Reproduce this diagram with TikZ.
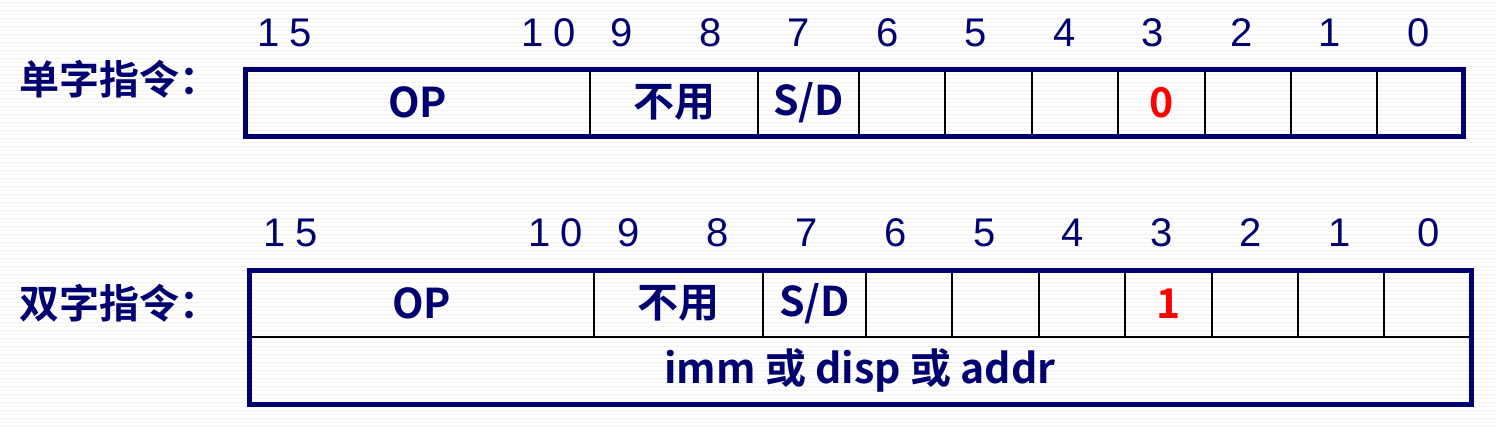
\documentclass[tikz,border=0pt]{standalone}
\usepackage{fontspec}
\setmainfont{Liberation Sans}
\newfontfamily\cjk{Noto Sans CJK SC}[BoldFont={Noto Sans CJK SC Bold}]
\usetikzlibrary{positioning}
\definecolor{navy}{RGB}{0,0,112}
\definecolor{bitred}{RGB}{255,0,0}

\begin{document}
\begin{tikzpicture}[x=0.5pt, y=-0.5pt,
    cell/.style={draw=black, line width=1pt, minimum height=33.5pt, inner sep=0pt, outer sep=0pt, text=navy, font=\cjk\bfseries\fontsize{20.5pt}{24pt}\selectfont},
    bitcell/.style={cell, minimum width=43.2pt},
    frame/.style={draw=navy, line width=2.5pt},
    bitnum/.style={text=navy, inner sep=0pt, font=\fontsize{20pt}{24pt}\selectfont},
    kind/.style={anchor=west, inner sep=0pt, text=navy, font=\cjk\bfseries\fontsize{20pt}{24pt}\selectfont},
    stripe/.style={draw=black!5, line width=0.5pt}
]
% background
\useasboundingbox (0,0) rectangle (1496,429);
\fill[white] (0,0) rectangle (1496,429);
\foreach \y in {2,6,...,429}
    \draw[stripe] (0,\y) -- (1496,\y);

% single word instruction
\node[kind] (single) at (19,79) {单字指令：};
\node[cell, minimum width=172.5pt, anchor=west] (op1) at (245,102.5) {OP};
\node[cell, minimum width=84pt, right=0pt of op1] (nu1) {不用};
\node[cell, minimum width=50.5pt, right=0pt of nu1] (sd1) {S/D};
\node[bitcell, right=0pt of sd1] (u6) {};
\node[bitcell, right=0pt of u6] (u5) {};
\node[bitcell, right=0pt of u5] (u4) {};
\node[bitcell, right=0pt of u4, text=bitred] (u3) {0};
\node[bitcell, right=0pt of u3] (u2) {};
\node[bitcell, right=0pt of u2] (u1) {};
\node[bitcell, right=0pt of u1] (u0) {};
\draw[frame] (op1.north west) rectangle (u0.south east);

\node[bitnum] (tn15) at (285,33) {1\kern.25em5};
\node[bitnum] (tn10) at (549,33) {1\kern.25em0};
\foreach \b in {9,...,0}
    \node[bitnum] (tn\b) at ({622+88.5*(9-\b)},33) {\b};

% double word instruction
\node[kind] (double) at (19,303) {双字指令：};
\node[cell, minimum width=172.5pt, anchor=west] (op2) at (249,303.5) {OP};
\node[cell, minimum width=84.5pt, right=0pt of op2] (nu2) {不用};
\node[cell, minimum width=51.5pt, right=0pt of nu2] (sd2) {S/D};
\node[bitcell, right=0pt of sd2] (d6) {};
\node[bitcell, right=0pt of d6] (d5) {};
\node[bitcell, right=0pt of d5] (d4) {};
\node[bitcell, right=0pt of d4, text=bitred] (d3) {1};
\node[bitcell, right=0pt of d3] (d2) {};
\node[bitcell, right=0pt of d2] (d1) {};
\node[bitcell, right=0pt of d1] (d0) {};
\node[cell, minimum width=611pt, anchor=north west] (addr) at (op2.south west) {imm 或 disp 或 addr};
\draw[frame] (op2.north west) rectangle (addr.south east);

\node[bitnum] (bn15) at (291,233) {1\kern.25em5};
\node[bitnum] (bn10) at (556,233) {1\kern.25em0};
\foreach \b in {9,...,0}
    \node[bitnum] (bn\b) at ({629+88.8*(9-\b)},233) {\b};
\end{tikzpicture}
\end{document}
